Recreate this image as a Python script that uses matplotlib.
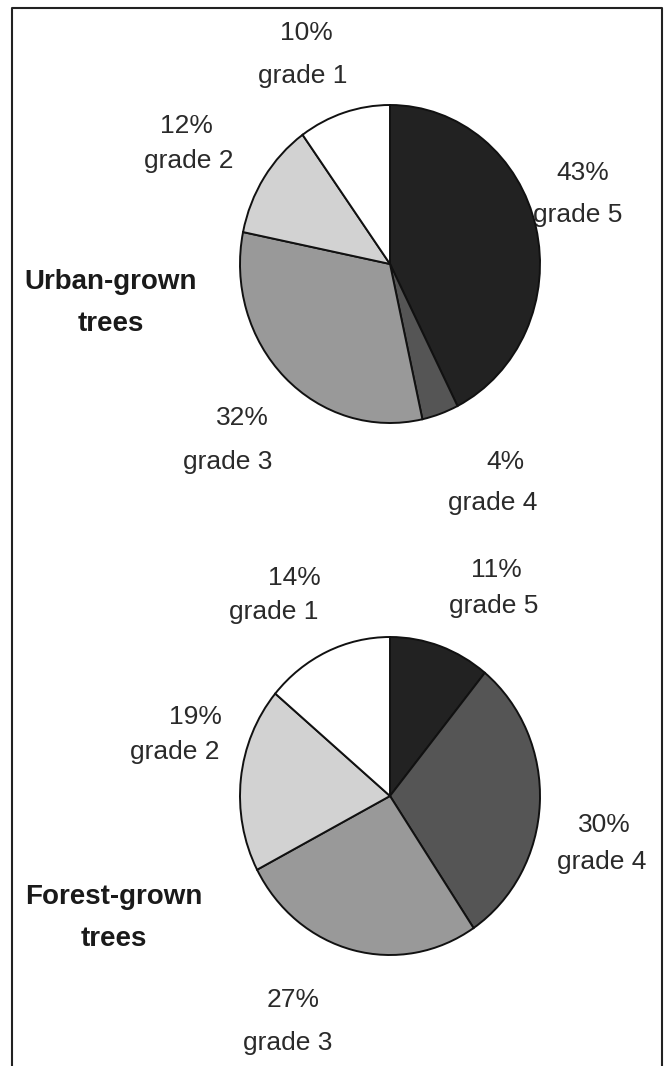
import matplotlib.pyplot as plt

W, H = 668, 1066

grades = ["grade 5", "grade 4", "grade 3", "grade 2", "grade 1"]
urban = [43, 4, 32, 12, 10]
forest = [11, 30, 27, 19, 14]
colors = ["#222222", "#555555", "#999999", "#d2d2d2", "#ffffff"]

# label centres (pixels), one per grade: percent line and grade line
urban_pos = [(583, 173), (505, 462), (242, 418), (186, 126), (306, 33)]
forest_pos = [(496, 570), (604, 825), (293, 1000), (195, 717), (294, 578)]
urban_sub = [(578, 215), (493, 503), (228, 462), (189, 161), (303, 76)]
forest_sub = [(494, 606), (602, 862), (288, 1043), (175, 752), (274, 612)]

plt.rcParams["font.family"] = ["Liberation Sans", "DejaVu Sans"]

fig = plt.figure(figsize=(W / 100, H / 100), dpi=100)
bg = fig.add_axes([0, 0, 1, 1])
bg.set_xlim(0, W)
bg.set_ylim(H, 0)
bg.axis("off")

# frame (open at the bottom)
bg.plot([12, 12, 662, 662], [H + 5, 8, 8, H + 5], color="#222222", lw=1.5)


def draw_pie(values, cx, cy, rx, ry):
    ax = fig.add_axes([(cx - rx) / W, (H - cy - ry) / H, 2 * rx / W, 2 * ry / H])
    wedges, _ = ax.pie(values, colors=colors, startangle=90, counterclock=False,
                       wedgeprops=dict(edgecolor="#111111", linewidth=1.4))
    for w in wedges:
        w.set_clip_on(False)
    ax.set_aspect("auto")
    ax.set_xlim(-1, 1)
    ax.set_ylim(-1, 1)
    ax.axis("off")


draw_pie(urban, 390, 264, 150, 159)
draw_pie(forest, 390, 796, 150, 159)

fs = 19
for vals, pos, sub in [(urban, urban_pos, urban_sub), (forest, forest_pos, forest_sub)]:
    for g, v, p, s in zip(grades, vals, pos, sub):
        bg.text(p[0], p[1], f"{v}%", fontsize=fs, ha="center", va="center", color="#2a2a2a")
        bg.text(s[0], s[1], g, fontsize=fs, ha="center", va="center", color="#2a2a2a")

bold = dict(fontsize=20, fontweight="bold", ha="center", va="center", color="#1a1a1a")
bg.text(111, 282, "Urban-grown", **bold)
bg.text(111, 324, "trees", **bold)
bg.text(114, 897, "Forest-grown", **bold)
bg.text(114, 939, "trees", **bold)

fig.savefig("out.png", dpi=100, facecolor="white")
